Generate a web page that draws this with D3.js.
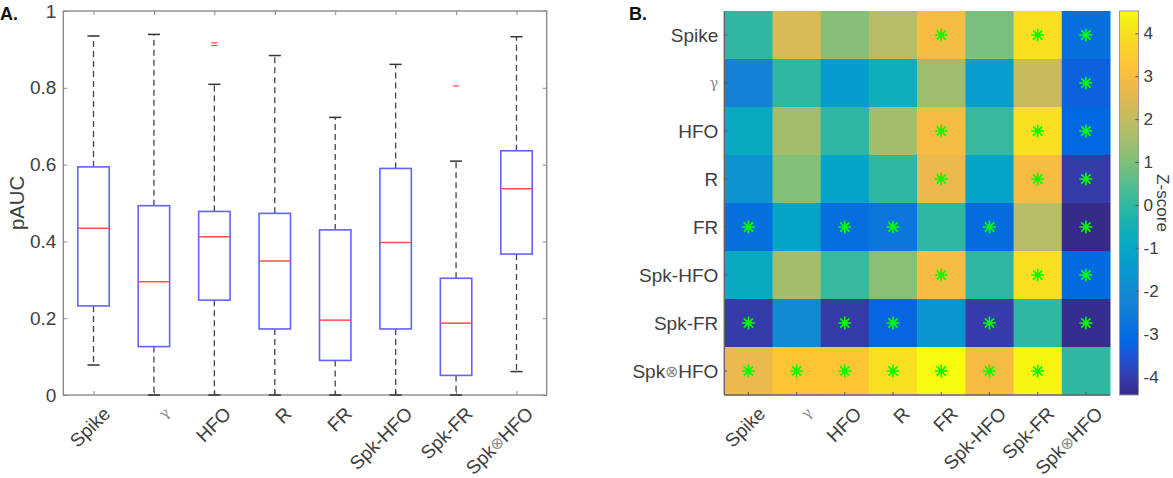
<!DOCTYPE html>
<html>
<head>
<meta charset="utf-8">
<script src="https://cdn.jsdelivr.net/npm/d3@7"></script>
<style>
  body { margin: 0; background: #fff; }
  svg text { font-family: "Liberation Sans", Arial, Helvetica, sans-serif; }
</style>
</head>
<body>
<div id="chart"></div>
<script>
// ---- data ----
const measures = ["Spike", "γ", "HFO", "R", "FR", "Spk-HFO", "Spk-FR", "Spk⊗HFO"];

// panel A: pAUC box plots
const whiskerLow  = [0.078, 0, 0, 0, 0, 0, 0, 0.061];
const q1          = [0.232, 0.126, 0.247, 0.172, 0.090, 0.172, 0.051, 0.367];
const medians     = [0.434, 0.295, 0.412, 0.349, 0.195, 0.397, 0.187, 0.537];
const q3          = [0.594, 0.493, 0.478, 0.473, 0.430, 0.590, 0.304, 0.636];
const whiskerHigh = [0.935, 0.939, 0.809, 0.884, 0.723, 0.861, 0.609, 0.933];
const outliers    = [[], [], [0.917, 0.910], [], [], [], [0.805], []];
const pAucTicks   = [0, 0.2, 0.4, 0.6, 0.8, 1];

// panel B: pairwise z-scores (row vs column) and significance marks
const zScores = [
  [ 0.00,  2.40,  1.10,  1.80,  3.00,  0.95,  4.00, -2.90],
  [-2.30,  0.00, -1.45, -0.60,  1.45, -1.40,  2.10, -3.30],
  [-0.90,  1.50,  0.00,  1.50,  3.00,  0.10,  4.00, -3.15],
  [-1.70,  1.05, -1.10,  0.00,  2.70, -1.10,  3.00, -4.05],
  [-2.90, -1.10, -2.95, -2.70,  0.00, -3.00,  1.80, -4.43],
  [-0.90,  1.50,  0.10,  1.15,  3.00,  0.00,  4.00, -3.10],
  [-4.05, -2.00, -4.05, -3.20, -1.65, -4.00,  0.00, -4.35],
  [ 2.70,  3.30,  3.30,  4.00,  4.52,  3.00,  4.40,  0.00]
];
const significant = [
  [0, 0, 0, 0, 1, 0, 1, 1],
  [0, 0, 0, 0, 0, 0, 0, 1],
  [0, 0, 0, 0, 1, 0, 1, 1],
  [0, 0, 0, 0, 1, 0, 1, 1],
  [1, 0, 1, 1, 0, 1, 0, 1],
  [0, 0, 0, 0, 1, 0, 1, 1],
  [1, 0, 1, 1, 0, 1, 0, 1],
  [1, 1, 1, 1, 1, 1, 1, 0]
];
const zTicks = [-4, -3, -2, -1, 0, 1, 2, 3, 4];

// parula colormap (every 3rd entry of the 64-colour table)
const parulaStops = ["#352a87", "#353dad", "#2053d4", "#0268e1", "#0d75dc", "#1481d6",
  "#108ed2", "#079ccf", "#06a7c6", "#0faeb9", "#25b5a9", "#42bb98", "#65be86", "#87bf77",
  "#a5be6b", "#c0bc60", "#d9ba56", "#f1b94a", "#ffc337", "#f9d32a", "#f5e41d", "#f9fb0e"];

// ---- layout ----
const W = 1173, H = 478;
const fontSize = 19;
const textColor = "#404040";
const frameColor = "#8c8c8c";
const A = { left: 63.3, right: 546.7, top: 11, bottom: 395 };
const B = { left: 724.3, right: 1110, top: 11, bottom: 395 };
const CB = { left: 1119.5, right: 1138.5, top: 11, bottom: 395 };

const svg = d3.select("#chart").append("svg")
  .attr("width", W).attr("height", H);

// label writer that shrinks the symbol glyphs the way the figure shows them
function writeLabel(sel, name) {
  if (name === "γ") {
    sel.append("tspan").attr("font-family", "DejaVu Serif, serif")
      .attr("font-size", fontSize * 0.75).attr("fill", "#8a8a8a").text("γ");
    return;
  }
  const parts = name.split("⊗");
  sel.append("tspan").text(parts[0]);
  if (parts.length > 1) {
    sel.append("tspan").attr("font-size", fontSize * 0.85).attr("fill", "#8a8a8a").text("⊗");
    sel.append("tspan").text(parts[1]);
  }
}

// ================= Panel A =================
const gA = svg.append("g");
const x = d3.scaleLinear().domain([0.5, measures.length + 0.5]).range([A.left, A.right]);
const y = d3.scaleLinear().domain([0, 1]).range([A.bottom, A.top]);

const boxes = measures.map((m, i) => ({
  name: m, pos: i + 1,
  lo: whiskerLow[i], q1: q1[i], med: medians[i], q3: q3[i], hi: whiskerHigh[i],
  out: outliers[i]
}));

// y axis (ticks inward on both sides)
gA.append("g")
  .attr("transform", `translate(${A.left},0)`)
  .call(d3.axisLeft(y).tickValues(pAucTicks).tickSize(-4).tickPadding(7).tickFormat(d => d))
  .call(g => g.select(".domain").remove())
  .call(g => g.selectAll("line").attr("stroke", frameColor))
  .call(g => g.selectAll("text").attr("font-size", fontSize).attr("fill", textColor)
    .attr("font-family", null));
gA.append("g")
  .attr("transform", `translate(${A.right},0)`)
  .call(d3.axisRight(y).tickValues(pAucTicks).tickSize(-4).tickFormat(""))
  .call(g => g.select(".domain").remove())
  .call(g => g.selectAll("line").attr("stroke", frameColor));

// x ticks top and bottom
const xTickVals = boxes.map(d => d.pos);
gA.append("g").attr("transform", `translate(0,${A.bottom})`)
  .call(d3.axisBottom(x).tickValues(xTickVals).tickSize(-4).tickFormat(""))
  .call(g => g.select(".domain").remove())
  .call(g => g.selectAll("line").attr("stroke", frameColor));
gA.append("g").attr("transform", `translate(0,${A.top})`)
  .call(d3.axisTop(x).tickValues(xTickVals).tickSize(-4).tickFormat(""))
  .call(g => g.select(".domain").remove())
  .call(g => g.selectAll("line").attr("stroke", frameColor));

// frame
gA.append("rect")
  .attr("x", A.left).attr("y", A.top)
  .attr("width", A.right - A.left).attr("height", A.bottom - A.top)
  .attr("fill", "none").attr("stroke", frameColor).attr("stroke-width", 1.4);

const boxHalf = 0.26, capHalf = 0.1;
const bx = gA.selectAll("g.box").data(boxes).join("g").attr("class", "box");

// whiskers
bx.append("line")
  .attr("x1", d => x(d.pos)).attr("x2", d => x(d.pos))
  .attr("y1", d => y(d.q3)).attr("y2", d => y(d.hi))
  .attr("stroke", "#444").attr("stroke-width", 1.3).attr("stroke-dasharray", "6,4");
bx.append("line")
  .attr("x1", d => x(d.pos)).attr("x2", d => x(d.pos))
  .attr("y1", d => y(d.q1)).attr("y2", d => y(d.lo))
  .attr("stroke", "#444").attr("stroke-width", 1.3).attr("stroke-dasharray", "6,4");
// caps
bx.append("line")
  .attr("x1", d => x(d.pos - capHalf)).attr("x2", d => x(d.pos + capHalf))
  .attr("y1", d => y(d.hi)).attr("y2", d => y(d.hi))
  .attr("stroke", "#333").attr("stroke-width", 1.5);
bx.append("line")
  .attr("x1", d => x(d.pos - capHalf)).attr("x2", d => x(d.pos + capHalf))
  .attr("y1", d => y(d.lo)).attr("y2", d => y(d.lo))
  .attr("stroke", "#333").attr("stroke-width", 1.5);
// box
bx.append("rect")
  .attr("x", d => x(d.pos - boxHalf)).attr("width", d => x(d.pos + boxHalf) - x(d.pos - boxHalf))
  .attr("y", d => y(d.q3)).attr("height", d => y(d.q1) - y(d.q3))
  .attr("fill", "none").attr("stroke", "#6262ff").attr("stroke-width", 1.6);
// median
bx.append("line")
  .attr("x1", d => x(d.pos - boxHalf)).attr("x2", d => x(d.pos + boxHalf))
  .attr("y1", d => y(d.med)).attr("y2", d => y(d.med))
  .attr("stroke", "#ff5050").attr("stroke-width", 1.5);
// outliers
bx.selectAll("line.out").data(d => d.out.map(v => ({ pos: d.pos, v })))
  .join("line").attr("class", "out")
  .attr("x1", d => x(d.pos) - 3).attr("x2", d => x(d.pos) + 3)
  .attr("y1", d => y(d.v)).attr("y2", d => y(d.v))
  .attr("stroke", "#ff4040").attr("stroke-width", 1.2);

// x labels rotated
gA.selectAll("text.xlab").data(boxes).join("text")
  .attr("class", "xlab")
  .attr("transform", d => `translate(${x(d.pos) + 13},${A.bottom + 15}) rotate(-45)`)
  .attr("text-anchor", "end").attr("dominant-baseline", "central")
  .attr("font-size", fontSize).attr("fill", textColor)
  .each(function (d) { writeLabel(d3.select(this), d.name); });

// y label
gA.append("text")
  .attr("transform", `translate(24,${(A.top + A.bottom) / 2}) rotate(-90)`)
  .attr("text-anchor", "middle")
  .attr("font-size", fontSize * 1.07).attr("fill", textColor)
  .text("pAUC");

// panel letter
svg.append("text").attr("x", 0).attr("y", 20)
  .attr("font-size", 18).attr("font-weight", "bold").attr("fill", "#111").text("A.");

// ================= Panel B =================
const gB = svg.append("g");
const hx = d3.scaleBand().domain(measures).range([B.left, B.right]);
const hy = d3.scaleBand().domain(measures).range([B.top, B.bottom]);

const zExtent = d3.extent(zScores.flat());
const parula = d3.scaleLinear()
  .domain(parulaStops.map((_, i) => i / (parulaStops.length - 1)))
  .range(parulaStops).interpolate(d3.interpolateRgb);
const zNorm = d3.scaleLinear().domain(zExtent).range([0, 1]).clamp(true);
const color = v => parula(zNorm(v));

const cells = [];
zScores.forEach((row, r) => row.forEach((v, c) => cells.push({
  row: measures[r], col: measures[c], v, sig: significant[r][c] === 1
})));

gB.selectAll("rect.cell").data(cells).join("rect")
  .attr("class", "cell")
  .attr("x", d => hx(d.col)).attr("y", d => hy(d.row))
  .attr("width", hx.bandwidth() + 0.5).attr("height", hy.bandwidth() + 0.5)
  .attr("fill", d => color(d.v));

// significance asterisks (8-ray star)
const starR = 6.5, dg = starR * Math.SQRT1_2;
const starPath = `M${-starR},0L${starR},0M0,${-starR}L0,${starR}` +
  `M${-dg},${-dg}L${dg},${dg}M${-dg},${dg}L${dg},${-dg}`;
gB.selectAll("path.star").data(cells.filter(d => d.sig)).join("path")
  .attr("class", "star")
  .attr("transform", d => `translate(${hx(d.col) + hx.bandwidth() / 2},${hy(d.row) + hy.bandwidth() / 2})`)
  .attr("d", starPath)
  .attr("stroke", "#00ff00").attr("stroke-width", 1.6).attr("fill", "none");

// axes lines and ticks
gB.append("line").attr("x1", B.left).attr("x2", B.left).attr("y1", B.top).attr("y2", B.bottom)
  .attr("stroke", "#666").attr("stroke-width", 1.4);
gB.append("line").attr("x1", B.left).attr("x2", B.right).attr("y1", B.bottom).attr("y2", B.bottom)
  .attr("stroke", "#666").attr("stroke-width", 1.4);
gB.selectAll("line.bt").data(measures).join("line").attr("class", "bt")
  .attr("x1", d => hx(d) + hx.bandwidth() / 2).attr("x2", d => hx(d) + hx.bandwidth() / 2)
  .attr("y1", B.bottom).attr("y2", B.bottom - 3).attr("stroke", "#555");
gB.selectAll("line.lt").data(measures).join("line").attr("class", "lt")
  .attr("y1", d => hy(d) + hy.bandwidth() / 2).attr("y2", d => hy(d) + hy.bandwidth() / 2)
  .attr("x1", B.left).attr("x2", B.left + 3).attr("stroke", "#555");

// row labels
gB.selectAll("text.ylab").data(measures).join("text")
  .attr("class", "ylab")
  .attr("x", B.left - 6).attr("y", d => hy(d) + hy.bandwidth() / 2)
  .attr("text-anchor", "end").attr("dominant-baseline", "central")
  .attr("font-size", fontSize).attr("fill", textColor)
  .each(function (d) { writeLabel(d3.select(this), d); });

// column labels
gB.selectAll("text.xlab").data(measures).join("text")
  .attr("class", "xlab")
  .attr("transform", d => `translate(${hx(d) + hx.bandwidth() / 2 + 13},${B.bottom + 15}) rotate(-45)`)
  .attr("text-anchor", "end").attr("dominant-baseline", "central")
  .attr("font-size", fontSize).attr("fill", textColor)
  .each(function (d) { writeLabel(d3.select(this), d); });

svg.append("text").attr("x", 629).attr("y", 20)
  .attr("font-size", 18).attr("font-weight", "bold").attr("fill", "#111").text("B.");

// colorbar
const cbY = d3.scaleLinear().domain(zExtent).range([CB.bottom, CB.top]);
const grad = svg.append("defs").append("linearGradient")
  .attr("id", "parula").attr("x1", 0).attr("x2", 0).attr("y1", 1).attr("y2", 0);
grad.selectAll("stop").data(parulaStops).join("stop")
  .attr("offset", (d, i) => i / (parulaStops.length - 1))
  .attr("stop-color", d => d);
svg.append("rect")
  .attr("x", CB.left).attr("y", CB.top)
  .attr("width", CB.right - CB.left).attr("height", CB.bottom - CB.top)
  .attr("fill", "url(#parula)").attr("stroke", "#999").attr("stroke-width", 1);
svg.append("g")
  .attr("transform", `translate(${CB.right},0)`)
  .call(d3.axisRight(cbY).tickValues(zTicks).tickSize(-3).tickPadding(5).tickFormat(d3.format("d")))
  .call(g => g.select(".domain").remove())
  .call(g => g.selectAll("line").attr("stroke", "#555"))
  .call(g => g.selectAll("text").attr("font-size", fontSize * 0.9).attr("fill", textColor)
    .attr("font-family", null).text(d => String(d)));
svg.append("text")
  .attr("transform", `translate(1157,${(CB.top + CB.bottom) / 2}) rotate(90)`)
  .attr("text-anchor", "middle")
  .attr("font-size", fontSize * 0.9).attr("fill", textColor)
  .text("Z-score");
</script>
</body>
</html>
